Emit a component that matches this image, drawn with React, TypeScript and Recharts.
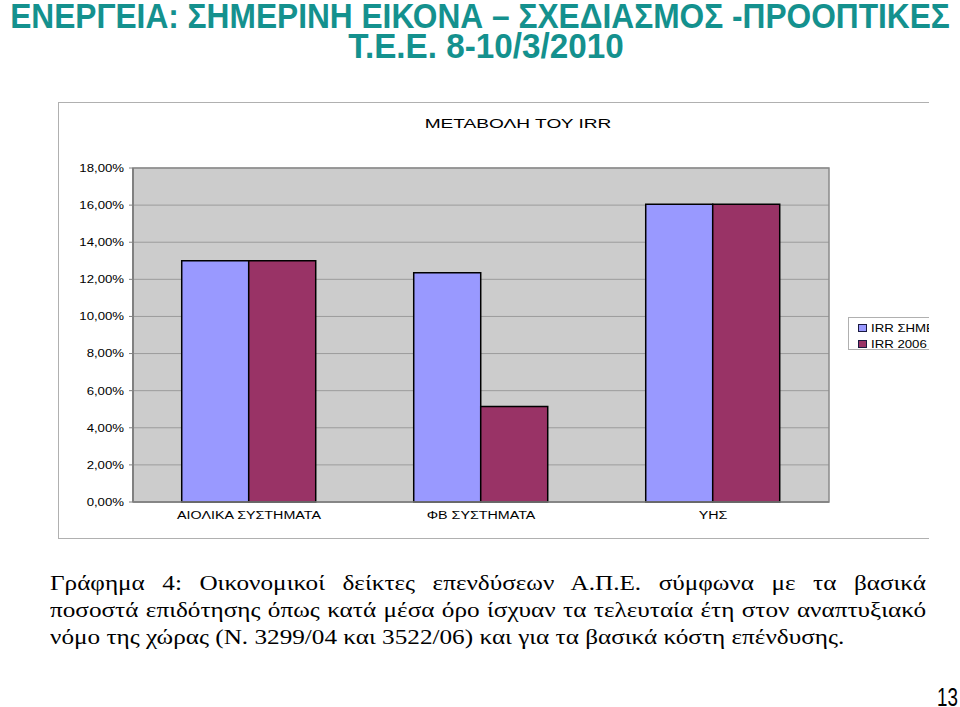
import React from 'react';
import { BarChart, Bar, XAxis, YAxis, CartesianGrid, ReferenceArea } from 'recharts';

const categories = ['ΑΙΟΛΙΚΑ ΣΥΣΤΗΜΑΤΑ', 'ΦΒ ΣΥΣΤΗΜΑΤΑ', 'ΥΗΣ'];
const irrToday = [13.0, 12.35, 16.05];
const irr2006 = [13.0, 5.15, 16.05];
const yTicks = [0, 2, 4, 6, 8, 10, 12, 14, 16, 18];
const seriesNames = ['IRR ΣΗΜΕΡΑ', 'IRR 2006'];
const seriesColors = ['#9999ff', '#993366'];

const data = categories.map((name, i) => ({ name, today: irrToday[i], y2006: irr2006[i] }));

const pct = (v: number) => v.toFixed(2).replace('.', ',') + '%';

const sans = '"Liberation Sans", Arial, sans-serif';
const serif = '"Liberation Serif", "Times New Roman", serif';

// chart text in the original is drawn wider than normal Arial
function XTick({ x, y, payload }: any) {
  return (
    <g transform={`translate(${x},${y})`}>
      <text transform="scale(1.3,1)" textAnchor="middle" dy="0.71em" fontSize={11} fontFamily={sans} fill="#000">
        {payload.value}
      </text>
    </g>
  );
}

function YTick({ x, y, payload }: any) {
  return (
    <g transform={`translate(${x},${y})`}>
      <text transform="scale(1.2,1)" textAnchor="end" dy="0.355em" fontSize={11} fontFamily={sans} fill="#000">
        {pct(payload.value)}
      </text>
    </g>
  );
}

const captionLines = [
  'Γράφημα 4: Οικονομικοί δείκτες επενδύσεων Α.Π.Ε. σύμφωνα με τα βασικά',
  'ποσοστά επιδότησης όπως κατά μέσα όρο ίσχυαν τα τελευταία έτη στον αναπτυξιακό',
  'νόμο της χώρας (Ν. 3299/04 και 3522/06) και για τα βασικά κόστη επένδυσης.',
];

export default function App() {
  return (
    <div style={{ position: 'absolute', left: 0, top: 0, width: 960, height: 707, background: '#fff', overflow: 'hidden' }}>
      <div style={{ position: 'absolute', left: -200, top: 1, width: 1360, textAlign: 'center', color: '#14918e', fontFamily: sans, fontWeight: 700, fontSize: 35, lineHeight: '30px', whiteSpace: 'nowrap' }}>
        <div style={{ transform: 'scaleX(0.905)' }}>ΕΝΕΡΓΕΙΑ: ΣΗΜΕΡΙΝΗ ΕΙΚΟΝΑ – ΣΧΕΔΙΑΣΜΟΣ -ΠΡΟΟΠΤΙΚΕΣ</div>
        <div style={{ transform: 'scaleX(0.95)', marginLeft: 12 }}>Τ.Ε.Ε. 8-10/3/2010</div>
      </div>

      <div style={{ position: 'absolute', left: 58, top: 102, width: 870, height: 435, borderTop: '1px solid #b0b0b0', borderLeft: '1px solid #b0b0b0', borderBottom: '1px solid #b0b0b0', overflow: 'hidden' }}>
        <div style={{ position: 'absolute', left: 0, top: 13, width: 918, textAlign: 'center', fontFamily: sans, fontSize: 13, lineHeight: '15px', transform: 'scaleX(1.47)' }}>
          ΜΕΤΑΒΟΛΗ ΤΟΥ IRR
        </div>
        <BarChart
          width={900}
          height={435}
          data={data}
          margin={{ top: 65, right: 130, left: 0, bottom: 6 }}
          barCategoryGap="21%"
          barGap={0}
        >
          <CartesianGrid vertical={false} fill="#cccccc" stroke="#9c9c9c" />
          <ReferenceArea y1={0} y2={18} fill="none" stroke="#8a8a8a" strokeWidth={1.5} />
          <XAxis
            dataKey="name"
            height={30}
            axisLine={{ stroke: '#808080', strokeWidth: 1.5 }}
            tickLine={false}
            tickSize={0}
            tickMargin={9}
            tick={<XTick />}
          />
          <YAxis
            width={74}
            domain={[0, 18]}
            ticks={yTicks}
            axisLine={{ stroke: '#808080', strokeWidth: 2 }}
            tickLine={{ stroke: '#808080' }}
            tickSize={4}
            tickMargin={5}
            tick={<YTick />}
          />
          <Bar dataKey="today" name={seriesNames[0]} fill={seriesColors[0]} stroke="#000" strokeWidth={1.5} isAnimationActive={false} />
          <Bar dataKey="y2006" name={seriesNames[1]} fill={seriesColors[1]} stroke="#000" strokeWidth={1.5} isAnimationActive={false} />
        </BarChart>
        <div style={{ position: 'absolute', left: 789, top: 214, width: 110, height: 31, border: '1px solid #b0b0b0', background: '#fff', fontFamily: sans, fontSize: 11 }}>
          {seriesNames.map((n, i) => (
            <div key={n} style={{ position: 'absolute', left: 9, top: 3 + i * 16, height: 14, display: 'flex', alignItems: 'center', whiteSpace: 'nowrap' }}>
              <span style={{ display: 'inline-block', width: 7, height: 6, background: seriesColors[i], border: '1px solid #1a1a40', marginRight: 4 }} />
              <span style={{ display: 'inline-block', transform: 'scaleX(1.2)', transformOrigin: 'left center' }}>{n}</span>
            </div>
          ))}
        </div>
      </div>

      <div style={{ position: 'absolute', left: 50, top: 570, fontFamily: serif, fontSize: 21, lineHeight: '27px', color: '#000' }}>
        {captionLines.map((line, i) => (
          <div
            key={i}
            style={{
              width: 730,
              whiteSpace: 'nowrap',
              textAlign: i < 2 ? 'justify' : 'left',
              textAlignLast: i < 2 ? 'justify' : 'left',
              transform: 'scaleX(1.2)',
              transformOrigin: 'left center',
            }}
          >
            {line}
          </div>
        ))}
      </div>

      <div style={{ position: 'absolute', right: 2, top: 687, fontFamily: sans, fontSize: 25, lineHeight: '20px', color: '#000', transform: 'scaleX(0.75)', transformOrigin: 'right center' }}>
        13
      </div>
    </div>
  );
}
